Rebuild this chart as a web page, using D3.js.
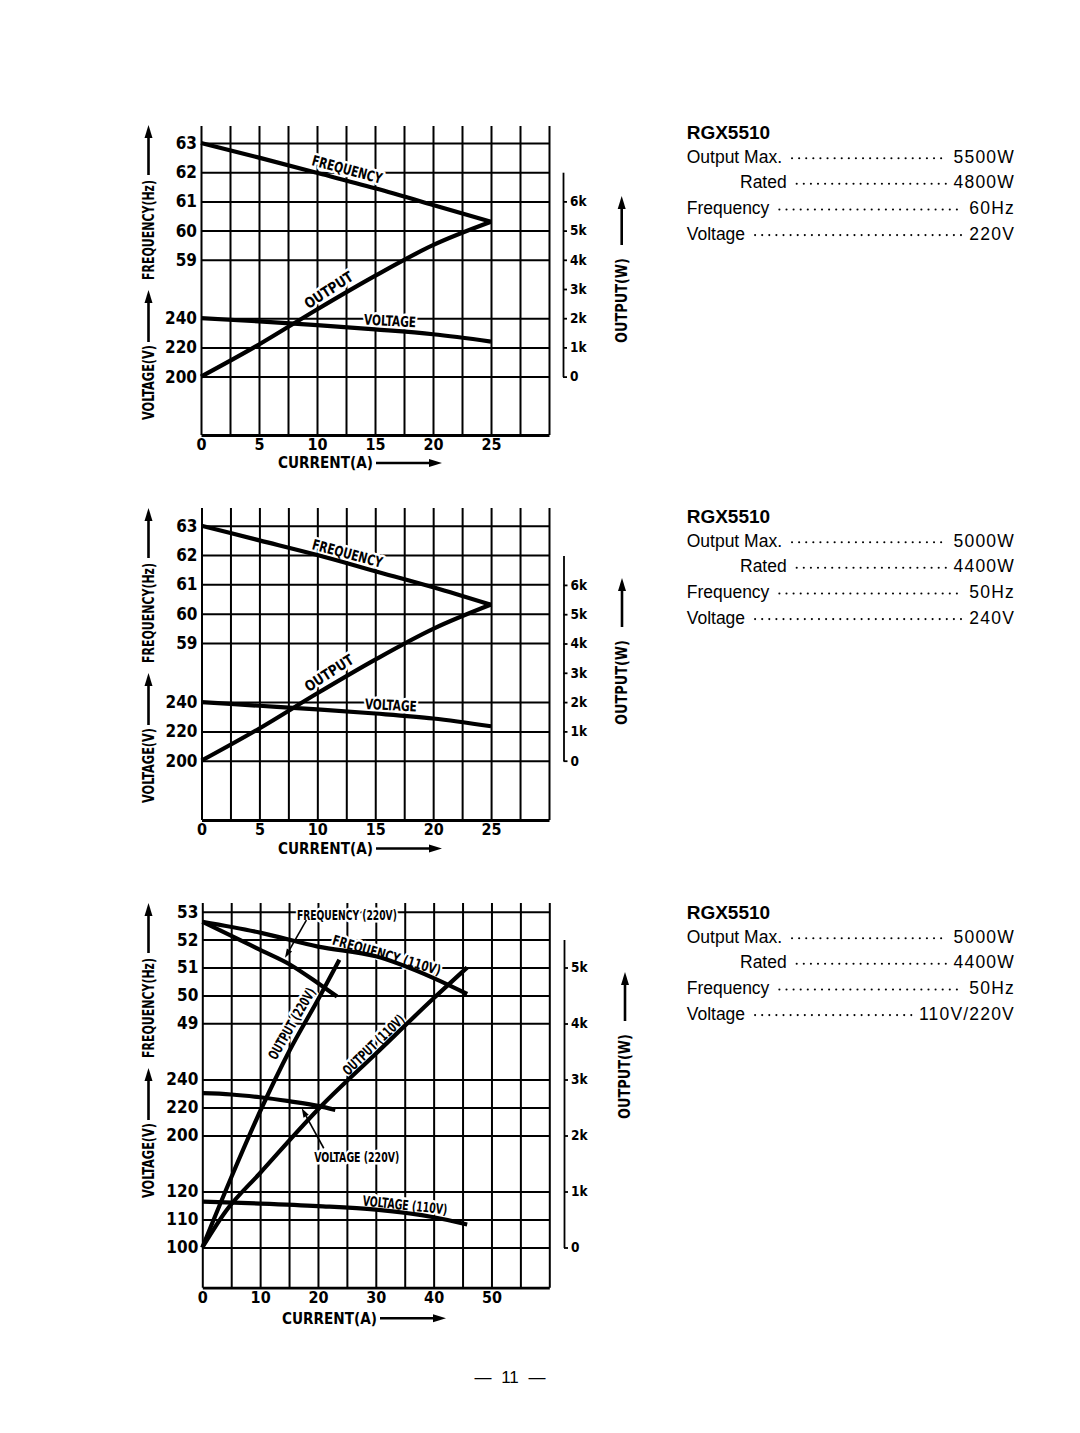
<!DOCTYPE html>
<html><head><meta charset="utf-8">
<script src="https://cdn.jsdelivr.net/npm/d3@7"></script>
<style>body{margin:0;background:#fff;}svg{display:block;}</style>
</head><body>
<script>
// ================= DATA =================
// Panel 1 : RGX5510 60Hz / 220V
const p1Current   = [0, 5, 10, 15, 20, 25];
const p1Frequency = [63, 62.5, 61.98, 61.45, 60.88, 60.3];
const p1Voltage   = [240, 237.8, 235.2, 232.3, 229, 224];
const p1Output    = [0, 1.1, 2.3, 3.45, 4.5, 5.3];
// Panel 2 : RGX5510 50Hz / 240V
const p2Current   = [0, 5, 10, 15, 20, 25];
const p2Frequency = [63, 62.5, 62.0, 61.45, 60.9, 60.3];
const p2Voltage   = [240, 237.5, 235, 232.2, 228.8, 223.5];
const p2Output    = [0, 1.1, 2.3, 3.45, 4.5, 5.33];
// Panel 3 : RGX5510 50Hz / 110V-220V
const p3Freq110Current = [0, 10, 20, 30, 40, 45.8];
const p3Freq110        = [52.64, 52.25, 51.75, 51.4, 50.62, 50.05];
const p3Freq220Current = [0, 5.4, 10, 15.2, 20.4, 23.3];
const p3Freq220        = [52.64, 52.1, 51.63, 51.1, 50.38, 49.96];
const p3Out220Current  = [0, 5, 10.3, 15, 20.4, 23.7];
const p3Out220         = [0, 1.25, 2.5, 3.5, 4.5, 5.14];
const p3Out110Current  = [0, 4, 10, 20.7, 30, 40, 45.8];
const p3Out110         = [0, 0.64, 1.33, 2.54, 3.46, 4.45, 5.0];
const p3Volt220Current = [0, 5, 10, 15, 20, 23];
const p3Volt220        = [230.2, 229.3, 227.3, 224.5, 221.2, 218.3];
const p3Volt110Current = [0, 10, 20, 30, 40, 45.8];
const p3Volt110        = [116.4, 115.7, 114.8, 113.5, 110.8, 108.2];

// Tick labels
const xTicks25      = [0, 5, 10, 15, 20, 25];
const xTicks50      = [0, 10, 20, 30, 40, 50];
const freqTicks60   = [59, 60, 61, 62, 63];
const voltTicks60   = [200, 220, 240];
const outTicks60    = [0, 1, 2, 3, 4, 5, 6];
const freqTicks50   = [49, 50, 51, 52, 53];
const voltTicksHigh = [200, 220, 240];
const voltTicksLow  = [100, 110, 120];
const outTicks50    = [0, 1, 2, 3, 4, 5];

// Spec text
const modelName   = "RGX5510";
const specLabels  = ["Output Max.", "Rated", "Frequency", "Voltage"];
const spec1Values = ["5500W", "4800W", "60Hz", "220V"];
const spec2Values = ["5000W", "4400W", "50Hz", "240V"];
const spec3Values = ["5000W", "4400W", "50Hz", "110V/220V"];
const pageNumber  = "— 11 —";

// ================= DRAWING =================
const COND = '"DejaVu Sans Condensed","Liberation Sans Narrow","Arial Narrow","DejaVu Sans",sans-serif';
const REG  = '"Liberation Sans",Arial,Helvetica,sans-serif';
const svg = d3.select("body").append("svg").attr("width",1080).attr("height",1433);
svg.append("rect").attr("width",1080).attr("height",1433).attr("fill","#fff");

function arrow(g, x1, y1, x2, y2, sw, hl, hw){
  const a = Math.atan2(y2-y1, x2-x1);
  const bx = x2 - hl*Math.cos(a), by = y2 - hl*Math.sin(a);
  g.append("line").attr("x1",x1).attr("y1",y1).attr("x2",bx).attr("y2",by)
    .attr("stroke","#000").attr("stroke-width",sw);
  const px = -Math.sin(a)*hw/2, py = Math.cos(a)*hw/2;
  g.append("path").attr("d",`M${x2},${y2}L${bx+px},${by+py}L${bx-px},${by-py}Z`).attr("fill","#000");
}

function drawPanel(P){
  const g = svg.append("g");
  const x = P.x;
  const W = x(P.xMax) - x(0);
  // vertical grid + x tick labels
  const vx = d3.range(0, P.xMax + 1e-9, P.xStep);
  const gx = g.append("g").attr("transform",`translate(0,${P.bottom})`)
    .call(d3.axisBottom(x).tickValues(vx).tickSize(-(P.bottom-P.gridTop)).tickSizeOuter(0)
      .tickPadding(3.5).tickFormat(d => P.xTicks.includes(d) ? String(d) : ""));
  gx.select(".domain").attr("stroke","#000").attr("stroke-width",2.8);
  gx.selectAll(".tick line").attr("stroke","#000").attr("stroke-width",2);
  gx.selectAll(".tick text").attr("font-family",COND).attr("font-weight","bold")
    .attr("font-size",16).attr("fill","#000");
  // horizontal grid + left tick labels
  P.left.forEach(L => {
    const ga = g.append("g").attr("transform",`translate(${x(0)},0)`)
      .call(d3.axisLeft(P.s[L.key]).tickValues(L.ticks).tickSize(-W).tickPadding(4)
        .tickFormat(d => String(d)));
    ga.select(".domain").remove();
    ga.selectAll(".tick line").attr("stroke","#000").attr("stroke-width",2);
    ga.selectAll(".tick text").attr("font-family",COND).attr("font-weight","bold")
      .attr("font-size",17).attr("fill","#000");
  });
  // right output axis
  const gr = g.append("g").attr("transform",`translate(${P.outX},0)`)
    .call(d3.axisRight(P.s.o).tickValues(P.outTicks).tickSize(4).tickSizeOuter(0).tickPadding(3)
      .tickFormat(d => d === 0 ? "0" : d + "k"));
  gr.select(".domain").attr("stroke","#000").attr("stroke-width",1.8);
  gr.selectAll(".tick line").attr("stroke","#000").attr("stroke-width",1.8);
  gr.selectAll(".tick text").attr("font-family",COND).attr("font-weight","bold")
    .attr("font-size",13.5).attr("fill","#000");

  // axis titles (left)
  const T = P.titleTop, X = 148.5;
  arrow(g, X, T+50, X, T, 2.6, 13, 8);
  g.append("text").text("FREQUENCY(Hz)").attr("transform",`translate(${X},${T+105}) rotate(-90)`)
    .attr("text-anchor","middle").attr("dy","0.36em").attr("font-family",COND).attr("font-weight","bold")
    .attr("font-size",15).attr("textLength",100).attr("lengthAdjust","spacingAndGlyphs");
  arrow(g, X, T+217, X, T+165, 2.6, 13, 8);
  g.append("text").text("VOLTAGE(V)").attr("transform",`translate(${X},${T+257.5}) rotate(-90)`)
    .attr("text-anchor","middle").attr("dy","0.36em").attr("font-family",COND).attr("font-weight","bold")
    .attr("font-size",15).attr("textLength",75).attr("lengthAdjust","spacingAndGlyphs");
  // right title
  const R = P.rTitleTop, RX = P.rTitleX;
  arrow(g, RX, R+49, RX, R, 2.6, 13, 8);
  g.append("text").text("OUTPUT(W)").attr("transform",`translate(${RX},${R+104.5}) rotate(-90)`)
    .attr("text-anchor","middle").attr("dy","0.36em").attr("font-family",COND).attr("font-weight","bold")
    .attr("font-size",15).attr("textLength",85).attr("lengthAdjust","spacingAndGlyphs");
  // current title
  const cy = P.bottom + P.curOff;
  g.append("text").text("CURRENT(A)").attr("x",P.curX).attr("y",cy).attr("dy","0.36em")
    .attr("font-family",COND).attr("font-weight","bold").attr("font-size",15)
    .attr("textLength",95).attr("lengthAdjust","spacingAndGlyphs");
  arrow(g, P.curX+98, cy, P.curX+164, cy, 2.6, 13, 8);

  // curve labels (with white halo hiding the grid)
  P.labels.forEach(L => {
    const lx = x(L.c), ly = P.s[L.k](L.v);
    g.append("text").text(L.t).attr("transform",`translate(${lx},${ly}) rotate(${L.rot})`)
      .attr("text-anchor","middle").attr("dy","0.36em")
      .attr("font-family",COND).attr("font-weight","bold").attr("font-size",L.size||14.5)
      .attr("textLength",L.len).attr("lengthAdjust","spacingAndGlyphs")
      .attr("stroke","#fff").attr("stroke-width",5).attr("stroke-linejoin","round")
      .attr("paint-order","stroke").attr("fill","#000");
  });
  // data lines
  P.series.forEach(S => {
    const line = d3.line().x(d => x(d[0])).y(d => P.s[S.k](d[1])).curve(d3.curveMonotoneX);
    g.append("path").attr("d", line(d3.zip(S.c, S.v))).attr("fill","none")
      .attr("stroke","#000").attr("stroke-width",4.2).attr("stroke-linecap","butt");
  });
  // annotation arrows
  (P.arrows||[]).forEach(A => {
    arrow(g, x(A.c1), P.s[A.k](A.v1), x(A.c2), P.s[A.k](A.v2), 1.6, 9, 6);
  });
}

const panel1 = {
  x: d3.scaleLinear([0,30],[201,549]), xMax:30, xStep:2.5, xTicks:xTicks25,
  gridTop:126, bottom:435,
  s:{ f:d3.scaleLinear([59,63],[259.8,143]), v:d3.scaleLinear([200,240],[376.6,318.2]),
      o:d3.scaleLinear([0,7],[376.6,172.2]) },
  left:[{key:'f', ticks:freqTicks60},{key:'v', ticks:voltTicks60}],
  outTicks:outTicks60, outX:563, titleTop:125, rTitleTop:196, rTitleX:621.7,
  curOff:28, curX:278,
  series:[{c:p1Current,v:p1Frequency,k:'f'},{c:p1Current,v:p1Voltage,k:'v'},{c:p1Current,v:p1Output,k:'o'}],
  labels:[
    {t:"FREQUENCY", c:12.6, v:62.1, k:'f', rot:15, len:72},
    {t:"OUTPUT", c:11.0, v:2.97, k:'o', rot:-33, len:55},
    {t:"VOLTAGE", c:16.3, v:238.3, k:'v', rot:3, len:52}
  ]
};
const panel2 = {
  x: d3.scaleLinear([0,30],[201.5,549]), xMax:30, xStep:2.5, xTicks:xTicks25,
  gridTop:508, bottom:820,
  s:{ f:d3.scaleLinear([59,63],[643,525.7]), v:d3.scaleLinear([200,240],[760.7,702.1]),
      o:d3.scaleLinear([0,7],[760.7,555.6]) },
  left:[{key:'f', ticks:freqTicks60},{key:'v', ticks:voltTicks60}],
  outTicks:outTicks60, outX:563.5, titleTop:508, rTitleTop:578, rTitleX:622,
  curOff:28.5, curX:278,
  series:[{c:p2Current,v:p2Frequency,k:'f'},{c:p2Current,v:p2Voltage,k:'v'},{c:p2Current,v:p2Output,k:'o'}],
  labels:[
    {t:"FREQUENCY", c:12.6, v:62.06, k:'f', rot:15, len:72},
    {t:"OUTPUT", c:11.0, v:3.0, k:'o', rot:-33, len:55},
    {t:"VOLTAGE", c:16.35, v:238, k:'v', rot:3, len:52}
  ]
};
const panel3 = {
  x: d3.scaleLinear([0,60],[202.3,549.3]), xMax:60, xStep:5, xTicks:xTicks50,
  gridTop:903, bottom:1287.7,
  s:{ f:d3.scaleLinear([49,53],[1023.3,911.7]), vh:d3.scaleLinear([200,240],[1135.5,1079.5]),
      vl:d3.scaleLinear([100,120],[1247.5,1191.5]), o:d3.scaleLinear([0,5.5],[1247.5,939.5]) },
  left:[{key:'f', ticks:freqTicks50},{key:'vh', ticks:voltTicksHigh},{key:'vl', ticks:voltTicksLow}],
  outTicks:outTicks50, outX:564, titleTop:903, rTitleTop:972, rTitleX:625,
  curOff:30.5, curX:282,
  series:[
    {c:p3Freq110Current,v:p3Freq110,k:'f'},{c:p3Freq220Current,v:p3Freq220,k:'f'},
    {c:p3Out220Current,v:p3Out220,k:'o'},{c:p3Out110Current,v:p3Out110,k:'o'},
    {c:p3Volt220Current,v:p3Volt220,k:'vh'},{c:p3Volt110Current,v:p3Volt110,k:'vl'}
  ],
  labels:[
    {t:"FREQUENCY (220V)", c:25, v:52.88, k:'f', rot:0, len:100, size:14},
    {t:"FREQUENCY (110V)", c:31.9, v:51.45, k:'f', rot:16, len:112, size:14},
    {t:"OUTPUT (220V)", c:15.46, v:4.0, k:'o', rot:-60, len:80, size:14},
    {t:"OUTPUT (110V)", c:29.6, v:3.62, k:'o', rot:-44, len:80, size:14},
    {t:"VOLTAGE (220V)", c:26.7, v:184.9, k:'vh', rot:0, len:85, size:14},
    {t:"VOLTAGE (110V)", c:35.05, v:115.2, k:'vl', rot:6, len:85, size:14}
  ],
  arrows:[
    {k:'f', c1:18, v1:52.7, c2:14.3, v2:51.35},
    {k:'vh', c1:21, v1:190.9, c2:17.2, v2:219.4}
  ]
};
[panel1, panel2, panel3].forEach(drawPanel);

// spec blocks
function specBlock(y0, values){
  const g = svg.append("g");
  g.append("text").text(modelName).attr("x",686.7).attr("y",y0)
    .attr("font-family",REG).attr("font-weight","bold").attr("font-size",19);
  const rowDy = [23.5, 49, 74.7, 100.3];
  specLabels.forEach((lab, i) => {
    const y = y0 + rowDy[i];
    const lx = lab === "Rated" ? 740 : 686.7;
    const t = g.append("text").text(lab).attr("x",lx).attr("y",y)
      .attr("font-family",REG).attr("font-size",17.5);
    const v = g.append("text").text(values[i]).attr("x",1015).attr("y",y).attr("text-anchor","end")
      .attr("font-family",REG).attr("font-size",17.5).attr("letter-spacing",1.2);
    const lr = lx + t.node().getComputedTextLength();
    const vl = 1015 - v.node().getComputedTextLength();
    const dots = d3.range(lr + 10, vl - 7, 7.1);
    g.selectAll(null).data(dots).join("circle").attr("cx",d=>d).attr("cy",y-4.5).attr("r",1.05).attr("fill","#000");
  });
}
specBlock(139.3, spec1Values);
specBlock(523.3, spec2Values);
specBlock(919.3, spec3Values);

svg.append("text").text(pageNumber).attr("x",510).attr("y",1383).attr("text-anchor","middle")
  .attr("font-family",REG).attr("font-size",17).attr("word-spacing",5);
</script>
</body></html>
